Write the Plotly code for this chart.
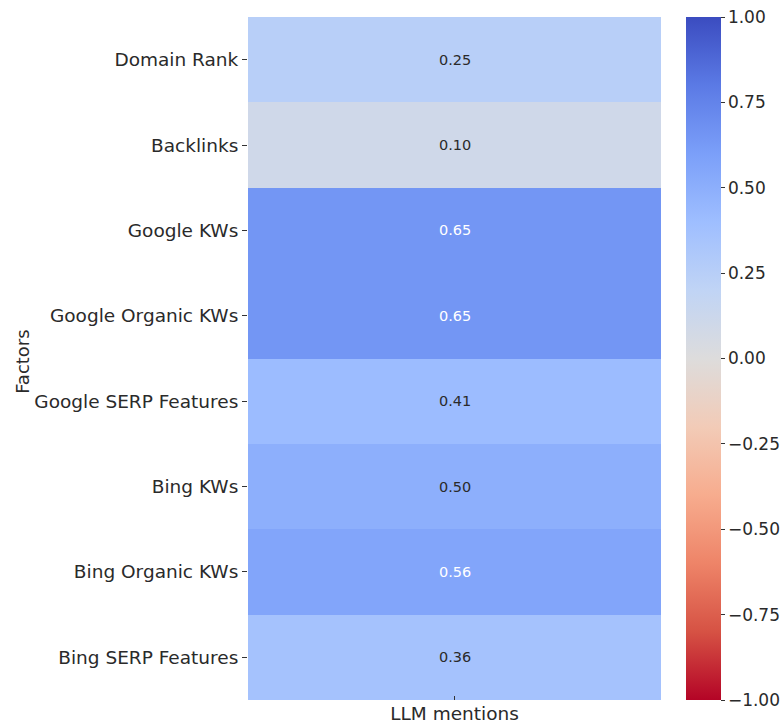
import plotly.graph_objects as go

# Correlation of each factor with LLM mentions
factors = [
    "Domain Rank",
    "Backlinks",
    "Google KWs",
    "Google Organic KWs",
    "Google SERP Features",
    "Bing KWs",
    "Bing Organic KWs",
    "Bing SERP Features",
]
target = ["LLM mentions"]
correlation = [0.25, 0.10, 0.65, 0.65, 0.41, 0.50, 0.56, 0.36]

# Reversed "coolwarm": red for -1, blue for +1
coolwarm_r = [
    [0.0, "#b40426"], [0.1, "#d65244"], [0.2, "#ee8468"], [0.3, "#f7ac8e"],
    [0.4, "#f2cbb7"], [0.5, "#dddcdc"], [0.6, "#c0d4f5"], [0.7, "#9ebeff"],
    [0.8, "#7b9ff9"], [0.9, "#5b7ae5"], [1.0, "#3b4cc0"],
]

font = "DejaVu Sans"
text_color = "#2a2a2a"

fig = go.Figure(
    go.Heatmap(
        z=[[v] for v in correlation],
        x=target,
        y=factors,
        zmin=-1,
        zmax=1,
        colorscale=coolwarm_r,
        showscale=True,
        colorbar=dict(
            x=1.0605, xanchor="left", xref="paper",
            y=0.5, yanchor="middle", len=1.0, lenmode="fraction",
            thickness=35, outlinewidth=0, xpad=0, ypad=0,
            tickvals=[-1, -0.75, -0.5, -0.25, 0, 0.25, 0.5, 0.75, 1],
            ticktext=["\u22121.00", "\u22120.75", "\u22120.50", "\u22120.25",
                      "0.00", "0.25", "0.50", "0.75", "1.00"],
            ticks="outside", ticklen=4, tickcolor="#333",
            tickfont=dict(family=font, size=17, color=text_color),
        ),
        hoverinfo="skip",
    )
)

# Value labels: light text on the darker cells
for name, v in zip(factors, correlation):
    fig.add_annotation(
        x=target[0], y=name, text=f"{v:.2f}", showarrow=False,
        font=dict(family=font, size=14.5, color="white" if v >= 0.55 else text_color),
    )

fig.add_annotation(
    text="Factors", xref="paper", yref="paper", x=-0.545, y=0.495,
    xanchor="center", yanchor="middle", textangle=-90, showarrow=False,
    font=dict(family=font, size=18, color=text_color),
)

fig.update_layout(
    width=784,
    height=722,
    margin=dict(l=248, r=123, t=17, b=22, autoexpand=False),
    paper_bgcolor="white",
    plot_bgcolor="white",
    xaxis=dict(
        ticks="inside", ticklen=4, tickcolor="#333", showgrid=False,
        showline=False, zeroline=False, automargin=False,
        tickfont=dict(family=font, size=18.5, color=text_color),
    ),
    yaxis=dict(
        autorange="reversed", ticks="outside", ticklen=5, tickcolor="#333",
        showgrid=False, showline=False, zeroline=False, automargin=False,
        tickfont=dict(family=font, size=18.5, color=text_color),
    ),
)

fig.write_html("out.html")
